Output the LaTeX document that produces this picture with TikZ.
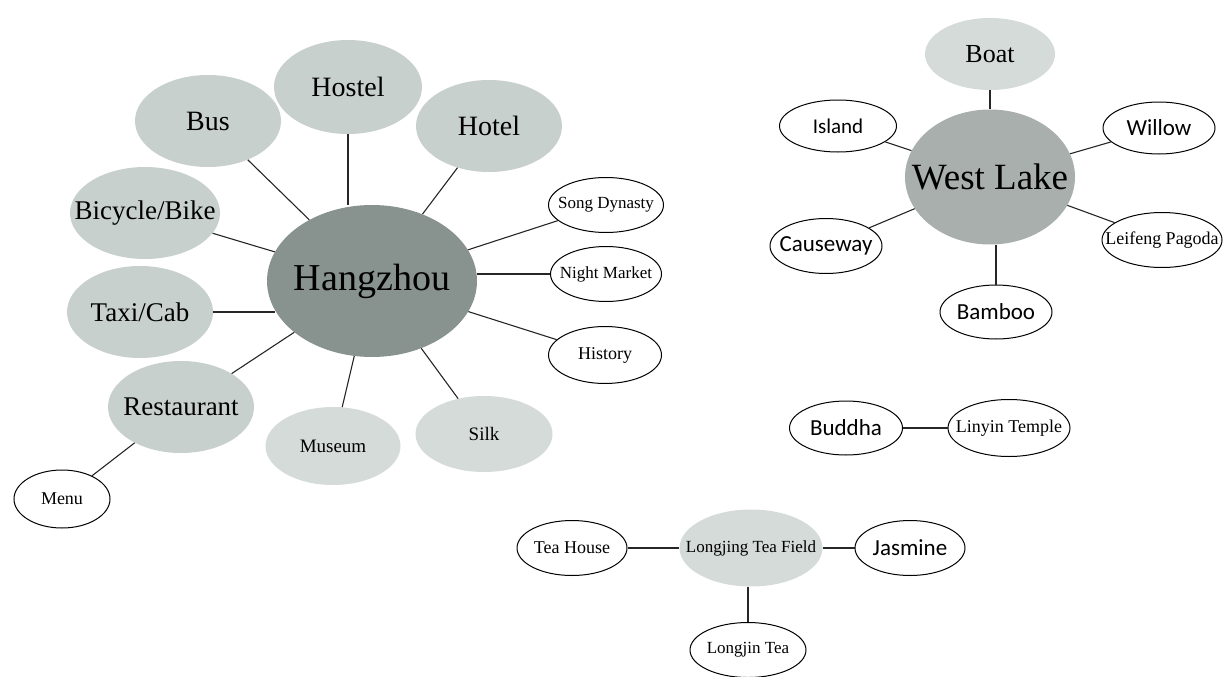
\documentclass[tikz,border=0pt]{standalone}
\usepackage{fontspec}
\setmainfont{Liberation Serif}
\newfontfamily\calib{Carlito}
\usetikzlibrary{shapes.geometric}

\definecolor{hubdark}{RGB}{136,146,143}
\definecolor{hubmid}{RGB}{168,175,172}
\definecolor{leafgray}{RGB}{200,208,205}
\definecolor{leaflight}{RGB}{212,219,216}

\newcommand{\lbl}[1]{\makebox[0pt]{#1}}
\newcommand{\fs}[1]{\fontsize{#1}{#1}\selectfont}

\tikzset{
  bubble/.style={ellipse, inner sep=0pt, draw=none},
  outline/.style={ellipse, inner sep=0pt, draw=black, line width=1pt, fill=white},
  link/.style={line width=1.1pt, black!85}
}

\begin{document}
\begin{tikzpicture}[x=1pt, y=-1pt]
  \useasboundingbox (0,0) rectangle (1226,677);

  % Hangzhou
  \node[bubble, fill=hubdark, minimum width=210, minimum height=152] (hz) at (372,281) {\lbl{\fs{38}Hangzhou}};
  \node[bubble, fill=leafgray, minimum width=148, minimum height=94] (hostel) at (348,87) {\lbl{\fs{28}Hostel}};
  \node[bubble, fill=leafgray, minimum width=146, minimum height=92] (bus) at (208,121) {\lbl{\fs{28}Bus}};
  \node[bubble, fill=leafgray, minimum width=146, minimum height=92] (hotel) at (489,126) {\lbl{\fs{28}Hotel}};
  \node[bubble, fill=leafgray, minimum width=150, minimum height=92] (bike) at (145,213) {\lbl{\fs{27}Bicycle/Bike}};
  \node[bubble, fill=leafgray, minimum width=146, minimum height=92] (taxi) at (140,312) {\lbl{\fs{27}Taxi/Cab}};
  \node[bubble, fill=leafgray, minimum width=146, minimum height=92] (rest) at (181,407) {\lbl{\fs{27}Restaurant}};
  \node[bubble, fill=leaflight, minimum width=135, minimum height=78] (museum) at (333,446) {\lbl{\fs{19}Museum}};
  \node[bubble, fill=leaflight, minimum width=137, minimum height=76] (silk) at (484,434) {\lbl{\fs{19}Silk}};
  \node[outline, minimum width=96, minimum height=58] (menu) at (62,499) {\lbl{\fs{18}Menu}};
  \node[outline, minimum width=115, minimum height=55] (song) at (606,205) {\lbl{\fs{17}Song Dynasty}};
  \node[outline, minimum width=111, minimum height=55] (night) at (606,274) {\lbl{\fs{17}Night Market}};
  \node[outline, minimum width=113, minimum height=57] (hist) at (605,355) {\lbl{\fs{18}History}};

  \foreach \n in {bus,hotel,bike,rest,museum,silk,song,hist}
    \draw[link] (hz) -- (\n);
  \draw[link] (hostel.south) -- (hostel.south |- hz.north);
  \draw[link] (taxi.east) -- ([xshift=8pt]taxi.east -| hz.west);
  \draw[link] (night.west) -- (night.west -| hz.east);
  \draw[link] (rest) -- (menu);

  % West Lake
  \node[bubble, fill=hubmid, minimum width=170, minimum height=135] (wl) at (990,177) {\lbl{\fs{37}West Lake}};
  \node[bubble, fill=leaflight, minimum width=130, minimum height=72] (boat) at (990,54) {\lbl{\fs{26}Boat}};
  \node[outline, minimum width=117, minimum height=52] (island) at (838,126) {\lbl{\calib\fs{21}Island}};
  \node[outline, minimum width=112, minimum height=52] (willow) at (1159,128) {\lbl{\calib\fs{23}Willow}};
  \node[outline, minimum width=112, minimum height=55] (cause) at (826,246) {\lbl{\calib\fs{23}Causeway}};
  \node[outline, minimum width=120, minimum height=55] (leifeng) at (1162,240) {\lbl{\fs{18}Leifeng Pagoda}};
  \node[outline, minimum width=112, minimum height=54] (bamboo) at (996,312) {\lbl{\calib\fs{23}Bamboo}};

  \foreach \n in {boat,island,willow,cause,leifeng}
    \draw[link] (wl) -- (\n);
  \draw[link] (bamboo.north) -- (bamboo.north |- wl.south);

  % Lingyin
  \node[outline, minimum width=113, minimum height=54] (buddha) at (846,428) {\lbl{\calib\fs{23}Buddha}};
  \node[outline, minimum width=122, minimum height=57] (temple) at (1009,428) {\lbl{\fs{18}Linyin Temple}};
  \draw[link] (buddha) -- (temple);

  % Longjing
  \node[bubble, fill=leaflight, minimum width=143, minimum height=77] (field) at (751,548) {\lbl{\fs{17}Longjing Tea Field}};
  \node[outline, minimum width=110, minimum height=55] (house) at (572,548) {\lbl{\fs{18}Tea House}};
  \node[outline, minimum width=110, minimum height=55] (jasmine) at (910,548) {\lbl{\calib\fs{23}Jasmine}};
  \node[outline, minimum width=116, minimum height=55] (ljtea) at (748,650) {\lbl{\fs{17}Longjin Tea}};

  \draw[link] (house) -- (field);
  \draw[link] (field) -- (jasmine);
  \draw[link] (field.south -| ljtea) -- (ljtea);
\end{tikzpicture}
\end{document}
